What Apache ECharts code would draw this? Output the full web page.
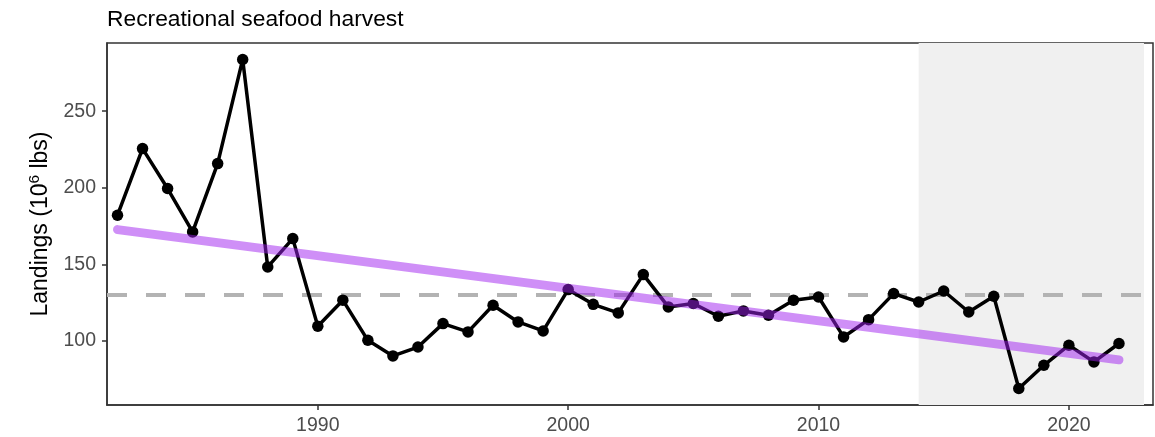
<!DOCTYPE html>
<html>
<head>
<meta charset="utf-8">
<title>Recreational seafood harvest</title>
<script src="https://cdn.jsdelivr.net/npm/echarts@6/dist/echarts.min.js"></script>
<style>
  html, body { margin: 0; padding: 0; background: #ffffff; }
  #chart { width: 1155px; height: 437px; }
</style>
</head>
<body>
<div id="chart"></div>
<script>
// Annual recreational landings, millions of pounds
const years = [
  1982, 1983, 1984, 1985, 1986, 1987, 1988, 1989, 1990, 1991,
  1992, 1993, 1994, 1995, 1996, 1997, 1998, 1999, 2000, 2001,
  2002, 2003, 2004, 2005, 2006, 2007, 2008, 2009, 2010, 2011,
  2012, 2013, 2014, 2015, 2016, 2017, 2018, 2019, 2020, 2021,
  2022
];
const landings = [
  182.1, 225.6, 199.5, 171.2, 215.8, 283.8, 148.3, 166.8, 109.6, 126.6,
  100.4, 90.2, 96.0, 111.3, 105.9, 123.3, 112.4, 106.5, 133.5, 123.9,
  118.3, 143.3, 122.2, 124.4, 116.1, 119.6, 116.8, 126.6, 128.7, 102.6,
  113.9, 130.9, 125.4, 132.6, 118.9, 129.2, 68.9, 84.1, 97.2, 86.3,
  98.3
];
const xTicks = [1990, 2000, 2010, 2020];
const yTicks = [100, 150, 200, 250];
// Recent period highlighted in grey
const recentStart = 2014;
const recentEnd = 2023;

// Long-term mean and least-squares trend
const n = years.length;
const meanX = years.reduce((a, b) => a + b, 0) / n;
const meanY = landings.reduce((a, b) => a + b, 0) / n;
let sxy = 0, sxx = 0;
for (let i = 0; i < n; i++) {
  sxy += (years[i] - meanX) * (landings[i] - meanY);
  sxx += (years[i] - meanX) * (years[i] - meanX);
}
const slope = sxy / sxx;
const intercept = meanY - slope * meanX;
const trend = [years[0], years[n - 1]].map(x => [x, intercept + slope * x]);

// Padded axis ranges around the data
const xSpan = years[n - 1] - years[0];
const xMin = years[0] - 0.0105 * xSpan;
const xMax = years[n - 1] + 0.034 * xSpan;
const yLo = Math.min(...landings), yHi = Math.max(...landings);
const yPad = 0.05 * (yHi - yLo);

const FONT = '"Liberation Sans", Arial, Helvetica, sans-serif';

const chart = echarts.init(document.getElementById('chart'), null, { renderer: 'canvas' });
chart.setOption({
  animation: false,
  backgroundColor: '#ffffff',
  title: {
    text: 'Recreational seafood harvest',
    left: 102,
    top: 3,
    textStyle: { fontFamily: FONT, fontSize: 22.8, fontWeight: 'normal', color: '#000000' }
  },
  grid: {
    left: 107, right: 2, top: 43, bottom: 32,
    show: true, borderColor: '#333333', borderWidth: 1.5, backgroundColor: 'transparent'
  },
  xAxis: {
    type: 'value',
    min: xMin,
    max: xMax,
    splitLine: { show: false },
    axisLine: { show: true, lineStyle: { color: '#333333', width: 1.5 } },
    axisTick: { show: true, customValues: xTicks, length: 5, lineStyle: { color: '#333333', width: 1.5 } },
    axisLabel: {
      customValues: xTicks, margin: 11, color: '#4d4d4d',
      fontFamily: FONT, fontSize: 19.5, formatter: v => String(v)
    }
  },
  yAxis: {
    type: 'value',
    min: yLo - yPad,
    max: yHi + yPad,
    name: '{t|Landings (10}{s|6}{t| lbs)}',
    nameLocation: 'middle',
    nameGap: 52,
    nameTextStyle: {
      rich: {
        t: { fontFamily: FONT, fontSize: 23, color: '#000000', lineHeight: 28 },
        s: { fontFamily: FONT, fontSize: 15.5, color: '#000000', verticalAlign: 'top', lineHeight: 18 }
      }
    },
    splitLine: { show: false },
    axisLine: { show: true, lineStyle: { color: '#333333', width: 1.5 } },
    axisTick: { show: true, customValues: yTicks, length: 5, lineStyle: { color: '#333333', width: 1.5 } },
    axisLabel: {
      customValues: yTicks, margin: 11, color: '#4d4d4d',
      fontFamily: FONT, fontSize: 19.5
    }
  },
  series: [
    {
      // grey recent-years band and long-term mean
      type: 'line',
      data: [],
      silent: true,
      z: 1,
      markArea: {
        silent: true,
        z: 1,
        itemStyle: { color: '#f0f0f0' },
        data: [[{ xAxis: recentStart }, { xAxis: recentEnd }]]
      },
      markLine: {
        silent: true,
        z: 2,
        symbol: 'none',
        label: { show: false },
        lineStyle: { color: '#b3b3b3', width: 4, type: [20, 19] },
        data: [{ yAxis: meanY }]
      }
    },
    {
      name: 'Landings',
      type: 'line',
      z: 3,
      data: years.map((y, i) => [y, landings[i]]),
      symbol: 'circle',
      symbolSize: 11.5,
      itemStyle: { color: '#000000' },
      lineStyle: { color: '#000000', width: 3.5 }
    },
    {
      name: 'Trend',
      type: 'line',
      z: 4,
      data: trend,
      symbol: 'none',
      lineStyle: { color: 'rgba(160, 32, 240, 0.5)', width: 9, cap: 'round' }
    }
  ]
});
</script>
</body>
</html>
